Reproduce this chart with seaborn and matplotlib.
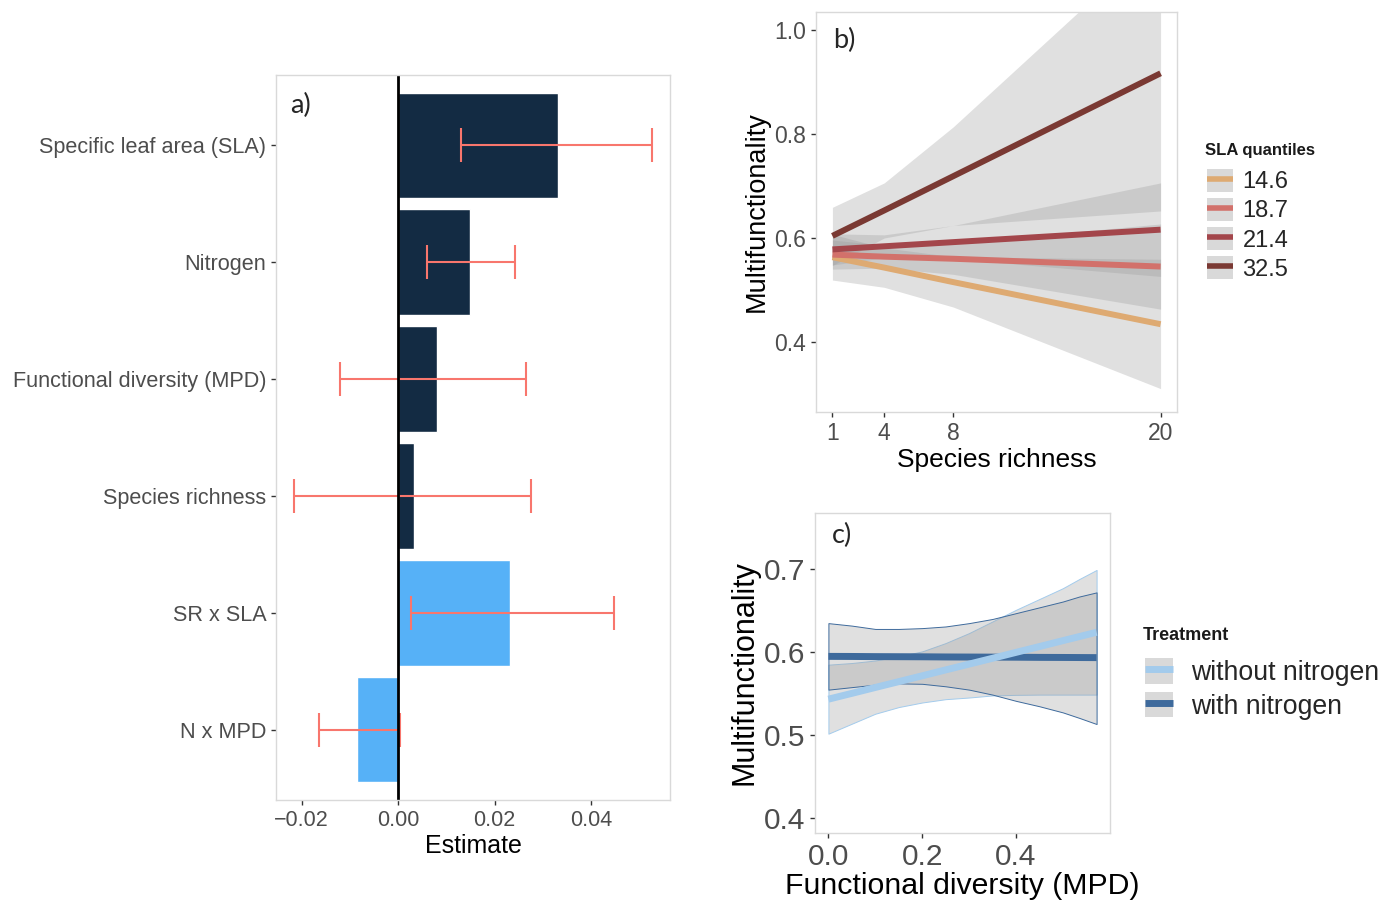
import numpy as np
import pandas as pd
import seaborn as sns
import matplotlib.pyplot as plt
from matplotlib.lines import Line2D
from matplotlib.patches import Patch


# ---- panel a: estimados del modelo ----
terminos = ["Specific leaf area (SLA)", "Nitrogen", "Functional diversity (MPD)",
            "Species richness", "SR x SLA", "N x MPD"]
estimado = [0.0332, 0.0148, 0.0080, 0.0033, 0.0231, -0.0085]
ic_bajo = [0.0130, 0.0060, -0.0120, -0.0216, 0.0027, -0.0163]
ic_alto = [0.0526, 0.0243, 0.0264, 0.0276, 0.0447, 0.0004]
tipo = ["principal", "principal", "principal", "principal", "interaccion", "interaccion"]

# ---- panel b: riqueza de especies x cuantiles de SLA ----
riqueza = [1, 4, 8, 20]
cuantiles = ["14.6", "18.7", "21.4", "32.5"]
mf_146 = [0.563, 0.543, 0.515, 0.434]
lo_146 = [0.519, 0.505, 0.467, 0.310]
hi_146 = [0.607, 0.581, 0.564, 0.559]
mf_187 = [0.568, 0.564, 0.560, 0.545]
lo_187 = [0.540, 0.542, 0.530, 0.463]
hi_187 = [0.596, 0.586, 0.590, 0.627]
mf_214 = [0.578, 0.584, 0.592, 0.616]
lo_214 = [0.548, 0.562, 0.560, 0.526]
hi_214 = [0.608, 0.606, 0.624, 0.706]
mf_325 = [0.604, 0.653, 0.719, 0.917]
lo_325 = [0.547, 0.600, 0.624, 0.652]
hi_325 = [0.659, 0.706, 0.814, 1.180]

# ---- panel c: diversidad funcional x tratamiento ----
tratamientos = ["without nitrogen", "with nitrogen"]
mpd = [0.0, 0.05, 0.1, 0.15, 0.2, 0.25, 0.3, 0.35, 0.4, 0.45, 0.5, 0.535, 0.572]
mf_sin = [0.5435, 0.5505, 0.5576, 0.5646, 0.5716, 0.5787, 0.5857, 0.5927, 0.5998,
          0.6068, 0.6139, 0.6188, 0.624]
lo_sin = [0.502, 0.514, 0.526, 0.534, 0.5395, 0.5435, 0.5455, 0.548, 0.5487,
          0.549, 0.549, 0.549, 0.549]
hi_sin = [0.585, 0.587, 0.590, 0.595, 0.601, 0.611, 0.623, 0.637, 0.651,
          0.664, 0.677, 0.688, 0.699]
mf_con = [0.5950, 0.5949, 0.5947, 0.5946, 0.5945, 0.5943, 0.5942, 0.5941, 0.5940,
          0.5938, 0.5937, 0.5936, 0.5935]
lo_con = [0.555, 0.558, 0.561, 0.5625, 0.562, 0.559, 0.555, 0.549, 0.5415,
          0.535, 0.5276, 0.521, 0.5136]
hi_con = [0.635, 0.632, 0.628, 0.628, 0.629, 0.631, 0.635, 0.640, 0.647,
          0.654, 0.661, 0.667, 0.672]

colores_sla = {"14.6": "#DEAA72", "18.7": "#D2716B", "21.4": "#A3464B", "32.5": "#7A3933"}
colores_trat = {"without nitrogen": "#A3CBEC", "with nitrogen": "#3E6A9C"}

sns.set_style("white")
plt.rcParams["font.family"] = ["Liberation Sans", "DejaVu Sans"]

GRIS_TXT = "#4D4D4D"
BORDE = "#D9D9D9"
W, H = 1397, 905


def estilo(ax, tam):
    for s in ax.spines.values():
        s.set_visible(True)
        s.set_color(BORDE)
        s.set_linewidth(1.0)
    ax.tick_params(direction="out", length=3.5, width=1, color="#333333",
                   labelcolor=GRIS_TXT, labelsize=tam, left=True, bottom=True)


fig = plt.figure(figsize=(13.97, 9.05), dpi=100)

# ================= a) =================
ax_a = fig.add_axes([276 / W, 1 - 800 / H, 394 / W, 725 / H])
df_a = pd.DataFrame({"termino": terminos, "estimado": estimado, "tipo": tipo})
sns.barplot(data=df_a, x="estimado", y="termino", hue="tipo", orient="h",
            palette={"principal": "#132B43", "interaccion": "#56B1F7"},
            dodge=False, width=0.9, saturation=1, errorbar=None, legend=False, ax=ax_a)
est = np.array(estimado)
ax_a.errorbar(est, np.arange(len(terminos)),
              xerr=[est - np.array(ic_bajo), np.array(ic_alto) - est],
              fmt="none", ecolor="#F8766D", elinewidth=1.5, capsize=12, capthick=1.5)
ax_a.axvline(0, color="black", lw=2)
ax_a.set_xlim(-0.0253, 0.0563)
ax_a.set_ylim(5.6, -0.6)
ax_a.set_xticks([-0.02, 0.0, 0.02, 0.04])
ax_a.set_xticklabels(["\u22120.02", "0.00", "0.02", "0.04"])
estilo(ax_a, 15.5)
ax_a.tick_params(axis="y", labelsize=15.6)
ax_a.set_xlabel("Estimate", fontsize=18, color="black", labelpad=2)
ax_a.set_ylabel("")
ax_a.text(0.036, 0.975, "a)", transform=ax_a.transAxes, fontsize=19.5,
          family="Lato", va="top", ha="left")

# ================= b) =================
ax_b = fig.add_axes([816 / W, 1 - 412 / H, 361 / W, 400 / H])
for lo, hi in [(lo_146, hi_146), (lo_187, hi_187), (lo_214, hi_214), (lo_325, hi_325)]:
    ax_b.fill_between(riqueza, lo, hi, color="#999999", alpha=0.3, lw=0)
df_b = pd.DataFrame({
    "riqueza": riqueza * 4,
    "mf": mf_146 + mf_187 + mf_214 + mf_325,
    "sla": np.repeat(cuantiles, len(riqueza)),
})
sns.lineplot(data=df_b, x="riqueza", y="mf", hue="sla", palette=colores_sla,
             hue_order=cuantiles, lw=4.3, legend=False, ax=ax_b, solid_capstyle="butt")
ax_b.set_xlim(0.05, 20.95)
ax_b.set_ylim(0.265, 1.035)
ax_b.set_xticks(riqueza)
ax_b.set_yticks([0.4, 0.6, 0.8, 1.0])
ax_b.set_yticklabels(["0.4", "0.6", "0.8", "1.0"])
estilo(ax_b, 16.5)
ax_b.set_xlabel("Species richness", fontsize=19, color="black", labelpad=2)
ax_b.set_ylabel("Multifunctionality", fontsize=19.5, color="black", labelpad=3)
ax_b.text(0.047, 0.96, "b)", transform=ax_b.transAxes, fontsize=19.5,
          family="Lato", va="top", ha="left")

# leyenda b (titulo aparte para controlar el espacio)
fig.text(1205 / W, 1 - 151 / H, "SLA quantiles", fontsize=12, weight="bold",
         color="#1A1A1A", va="center", ha="left")
mano_b = [(Patch(facecolor="#D9D9D9", edgecolor="none"),
           Line2D([], [], color=colores_sla[q], lw=4, solid_capstyle="butt")) for q in cuantiles]
fig.legend(mano_b, cuantiles, loc="upper left", bbox_to_anchor=(1207 / W, 1 - 169 / H),
           frameon=False, fontsize=17,
           handlelength=1.1, handleheight=1.1, labelspacing=0.2,
           handletextpad=0.4, borderpad=0, borderaxespad=0)

# ================= c) =================
ax_c = fig.add_axes([815 / W, 1 - 833 / H, 295 / W, 320 / H])
for lo, hi, t in [(lo_sin, hi_sin, tratamientos[0]), (lo_con, hi_con, tratamientos[1])]:
    ax_c.fill_between(mpd, lo, hi, facecolor=(0.6, 0.6, 0.6, 0.3),
                      edgecolor=colores_trat[t], lw=0.7)
df_c = pd.DataFrame({
    "mpd": mpd * 2,
    "mf": mf_sin + mf_con,
    "trat": np.repeat(tratamientos, len(mpd)),
})
sns.lineplot(data=df_c, x="mpd", y="mf", hue="trat", palette=colores_trat,
             hue_order=tratamientos[::-1], lw=5, legend=False, ax=ax_c, solid_capstyle="butt")
ax_c.set_xlim(-0.0286, 0.6006)
ax_c.set_ylim(0.3825, 0.7675)
ax_c.set_xticks([0.0, 0.2, 0.4])
ax_c.set_xticklabels(["0.0", "0.2", "0.4"])
ax_c.set_yticks([0.4, 0.5, 0.6, 0.7])
ax_c.set_yticklabels(["0.4", "0.5", "0.6", "0.7"])
estilo(ax_c, 21.5)
ax_c.set_xlabel("Functional diversity (MPD)", fontsize=21.8, color="black", labelpad=1)
ax_c.set_ylabel("Multifunctionality", fontsize=22, color="black", labelpad=3)
ax_c.text(0.058, 0.97, "c)", transform=ax_c.transAxes, fontsize=19.5,
          family="Lato", va="top", ha="left")

fig.text(1143 / W, 1 - 636 / H, "Treatment", fontsize=13, weight="bold",
         color="#1A1A1A", va="center", ha="left")
mano_c = [(Patch(facecolor="#D9D9D9", edgecolor="none"),
           Line2D([], [], color=colores_trat[t], lw=5, solid_capstyle="butt")) for t in tratamientos]
fig.legend(mano_c, tratamientos, loc="upper left", bbox_to_anchor=(1145 / W, 1 - 658 / H),
           frameon=False, fontsize=19.2,
           handlelength=1.05, handleheight=1.1, labelspacing=0.22,
           handletextpad=0.68, borderpad=0, borderaxespad=0)

fig.savefig("out.png", dpi=100)
